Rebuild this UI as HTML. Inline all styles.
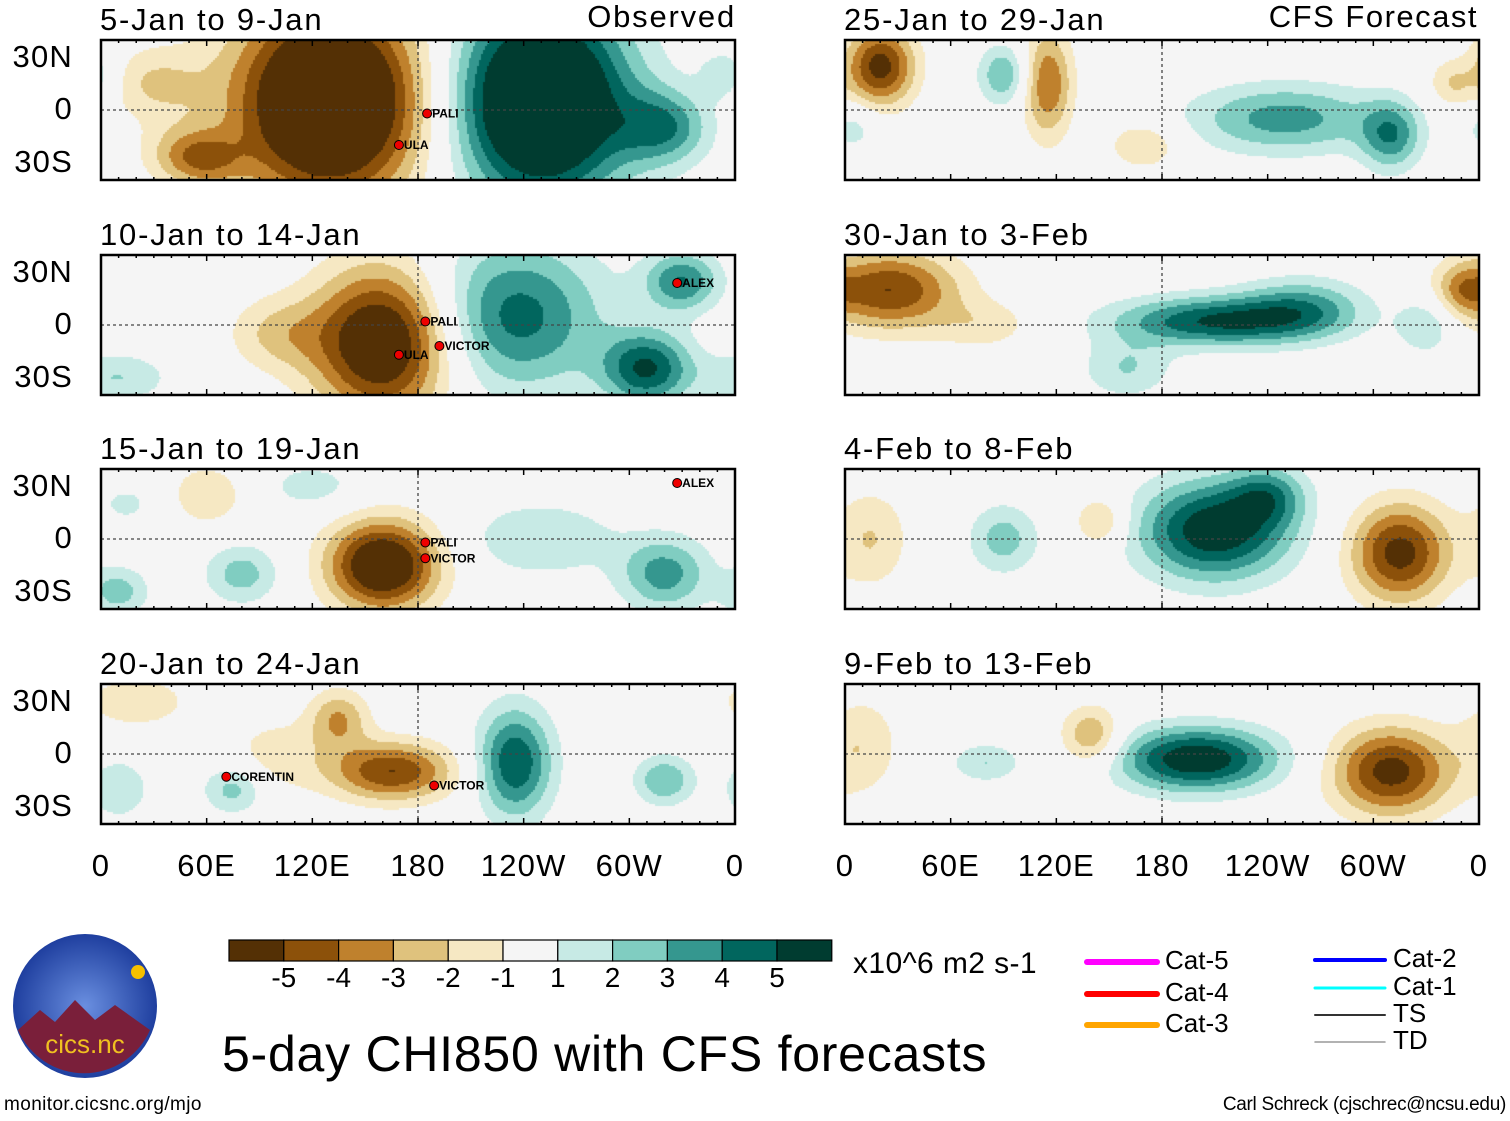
<!DOCTYPE html>
<html><head><meta charset="utf-8">
<style>
body{margin:0;background:#fff;width:1510px;height:1121px;overflow:hidden;position:relative;font-family:"Liberation Sans",Arial,sans-serif}
.t{position:absolute;color:#000;white-space:nowrap}
canvas{position:absolute}
</style></head><body>
<svg id="ov" width="1510" height="1121" style="position:absolute;left:0;top:0;z-index:2"></svg>
<script>
// Panel data: blobs [lon, lat, amplitude, sigmaLon, sigmaLat]
const panelTitles=["5-Jan to 9-Jan","10-Jan to 14-Jan","15-Jan to 19-Jan","20-Jan to 24-Jan","25-Jan to 29-Jan","30-Jan to 3-Feb","4-Feb to 8-Feb","9-Feb to 13-Feb"];
const blobs0=[[130,5,-9,38,40],[250,5,9,35,40],[320,-10,3.5,18,15],[50,-25,-2.5,18,12],[30,15,-2,20,15],[355,20,2,10,10],[60,-30,-1.5,15,10]];
const blobs1=[[160,-10,-7,28,30],[235,5,4.5,35,30],[310,-25,5,18,15],[330,25,4,15,12],[10,-30,2,20,10],[100,-5,-2,20,15]];
const blobs2=[[160,-15,-7,22,18],[80,-20,2.5,15,12],[320,-20,3.5,18,15],[250,0,2,30,15],[60,25,-2,15,12],[10,-30,2.5,12,10],[120,30,1.5,20,10],[15,20,1.2,15,10]];
const blobs3=[[165,-10,-5,25,12],[235,-5,5,15,22],[135,20,-3,12,12],[75,-20,2.5,12,10],[320,-15,3,12,10],[20,30,-2,20,10],[100,0,-1.5,20,15],[10,-20,2,12,12]];
const blobs4=[[20,25,-5.5,14,16],[115,15,-4,10,22],[90,20,3,10,12],[250,-5,3.5,38,14],[310,-15,3.5,12,14],[170,-20,-2,15,10],[345,15,-2,10,10],[5,-10,1.5,10,10]];
const blobs5=[[25,20,-5,28,16],[210,2,5,40,10],[260,10,3,25,12],[160,-25,2,18,12],[80,0,-1.5,20,10],[330,0,2,12,12],[350,20,-2,10,10]];
const blobs6=[[210,5,6,30,20],[315,-8,-5.5,20,20],[90,0,2.5,14,14],[145,10,-2.5,10,10],[15,0,-2,15,20],[240,25,3,15,12]];
const blobs7=[[200,-3,6,32,13],[310,-10,-5.5,24,18],[140,10,-3.2,12,12],[80,-5,2,14,8],[10,5,-1.8,15,20]];
const allBlobs=[blobs0,blobs1,blobs2,blobs3,blobs4,blobs5,blobs6,blobs7];
const levels=[-5,-4,-3,-2,-1,1,2,3,4,5];
const colors=["#543005","#8c510a","#bf812d","#dfc27d","#f6e8c3","#f5f5f5","#c7eae5","#80cdc1","#35978f","#01665e","#003c30"];
const xTickLabels=["0","60E","120E","180","120W","60W","0"];
const yTickLabels=["30N","0","30S"];
const storms=[[0,"PALI",188,-2],[0,"ULA",172,-20],[1,"ALEX",330,24],[1,"PALI",187,2],[1,"VICTOR",195,-12],[1,"ULA",172,-17],[2,"ALEX",330,32],[2,"PALI",187,-2],[2,"VICTOR",187,-11],[3,"CORENTIN",74,-13],[3,"VICTOR",192,-18]];
</script>
<script>
const NS="http://www.w3.org/2000/svg";
const ov=document.getElementById('ov');
const PX=[101,845],PY=[40,255,469,684],PW=634,PH=140;
function xs(p,lon){return PX[Math.floor(p/4)]+lon/360*PW;}
function ys(p,lat){return PY[p%4]+(40-lat)/80*PH;}
function colorIdx(v){let i=0;while(i<levels.length&&v>=levels[i])i++;return i;}
function mk(tag,attrs,parent){const e=document.createElementNS(NS,tag);for(const k in attrs)e.setAttribute(k,attrs[k]);(parent||ov).appendChild(e);return e;}
function txt(x,y,s,size,anchor,ls){const d=document.createElement('div');d.className='t';d.textContent=s;d.style.left=x+'px';d.style.top=y+'px';d.style.fontSize=size+'px';if(ls)d.style.letterSpacing=ls+'px';if(anchor==='c')d.style.transform='translateX(-50%)';if(anchor==='r')d.style.transform='translateX(-100%)';document.body.appendChild(d);return d;}
for(let p=0;p<8;p++){
  const col=Math.floor(p/4),row=p%4;
  const cv=document.createElement('canvas');cv.width=PW;cv.height=PH;
  cv.style.left=PX[col]+'px';cv.style.top=PY[row]+'px';
  
  
  document.body.appendChild(cv);
  const ctx=cv.getContext('2d');
  const B=allBlobs[p];
  for(let py=0;py<PH;py+=2){
    const lat=40-(py+1)/PH*80;
    for(let px=0;px<PW;px+=2){
      const lon=(px+1)/PW*360;let v=0;
      for(const b of B){let dl=lon-b[0];if(dl>180)dl-=360;if(dl<-180)dl+=360;const dy=lat-b[1];v+=b[2]*Math.exp(-0.5*((dl/b[3])**2+(dy/b[4])**2));}
      ctx.fillStyle=colors[colorIdx(v)];ctx.fillRect(px,py,2,2);
    }
  }
  const g=mk('g',{});
  
  
  mk('line',{x1:xs(p,0),x2:xs(p,360),y1:ys(p,0),y2:ys(p,0),stroke:'#444','stroke-dasharray':'3,3','stroke-width':1.3},g);
  mk('line',{x1:xs(p,180),x2:xs(p,180),y1:ys(p,40),y2:ys(p,-40),stroke:'#444','stroke-dasharray':'3,3','stroke-width':1.3},g);
  mk('rect',{x:xs(p,0),y:ys(p,40),width:PW,height:PH,fill:'none',stroke:'#000','stroke-width':2.5},g);
  for(let l=0;l<=360;l+=10){const h=l%60===0?6:3;
    mk('line',{x1:xs(p,l),x2:xs(p,l),y1:ys(p,40),y2:ys(p,40)+h,stroke:'#000','stroke-width':1.5},g);
    mk('line',{x1:xs(p,l),x2:xs(p,l),y1:ys(p,-40),y2:ys(p,-40)-h,stroke:'#000','stroke-width':1.5},g);}
  const tt=txt(PX[col]-1,PY[row]-38,panelTitles[p],31,null,1.8);
  
  
  if(col===0){[30,0,-30].forEach((lat,i)=>{const d=txt(73,ys(p,lat)-19,yTickLabels[i],31,'r',1.2);
    
    });}
}
txt(736,-1,"Observed",31,'r',1.8);
txt(1478,-1,"CFS Forecast",31,'r',1.5);
for(let c=0;c<2;c++)xTickLabels.forEach((s,i)=>{const d=txt(xs(c*4,i*60),848,s,31,'c',1.2);
  
  });
storms.forEach(s=>{const x=xs(s[0],s[2]),y=ys(s[0],s[3]);
  const c=mk('circle',{cx:x-5,cy:y,r:4.5,fill:'#e00',stroke:'#000','stroke-width':1});
  
  
  const t=mk('text',{x:x,y:y+4,'font-size':12,'font-family':'Liberation Sans, sans-serif','font-weight':'bold',fill:'#000'});
  t.textContent=s[1];
  
  });
const cb=mk('g',{});


colors.forEach((c,i)=>{mk('rect',{x:229+i*54.8,y:940,width:54.8,height:21,fill:c,stroke:'#000','stroke-width':1.2},cb);});
levels.forEach((l,i)=>{const d=txt(229+(i+1)*54.8,962,String(l),28,'c');
  
  });
txt(853,947,"x10^6 m2 s-1",30,null,0.4);
txt(222,1025,"5-day CHI850 with CFS forecasts",50,null,0.75);
txt(4,1094,"monitor.cicsnc.org/mjo",19,null,0.4);
txt(1506,1094,"Carl Schreck (cjschrec@ncsu.edu)",19,'r',-0.3);
const leg=[[1087,962,"#ff00ff",6,"Cat-5"],[1087,994,"#ff0000",6,"Cat-4"],[1087,1025,"#ffa500",6,"Cat-3"],[1315,960,"#0000ff",4,"Cat-2"],[1315,988,"#00ffff",3,"Cat-1"],[1315,1015,"#333",2,"TS"],[1315,1042,"#999",1.5,"TD"]];
leg.forEach(l=>{const ln=mk('line',{x1:l[0],x2:l[0]+70,y1:l[1],y2:l[1],stroke:l[2],'stroke-width':l[3],'stroke-linecap':'round'});
  
  
  const d=txt(l[0]+78,l[1]-17,l[4],26);
  
  });
const lg=mk('g',{});


const defs=mk('defs',{},lg);const rg=mk('radialGradient',{id:'lgg'},defs);
mk('stop',{offset:'0%','stop-color':'#6a8fe0'},rg);mk('stop',{offset:'100%','stop-color':'#1f3f9f'},rg);
mk('circle',{cx:85,cy:1006,r:72,fill:'url(#lgg)'},lg);
mk('path',{d:'M18,1030 L40,1010 L55,1022 L75,1000 L95,1020 L115,1005 L150,1030 A72,72 0 0 1 18,1030Z',fill:'#7a1f3a'},lg);
mk('circle',{cx:138,cy:972,r:7,fill:'#f5c000'},lg);
const lt=mk('text',{x:85,y:1053,'text-anchor':'middle','font-size':26,fill:'#f0c020','font-family':'Liberation Sans, sans-serif'},lg);lt.textContent='cics.nc';
</script>
</body></html>
